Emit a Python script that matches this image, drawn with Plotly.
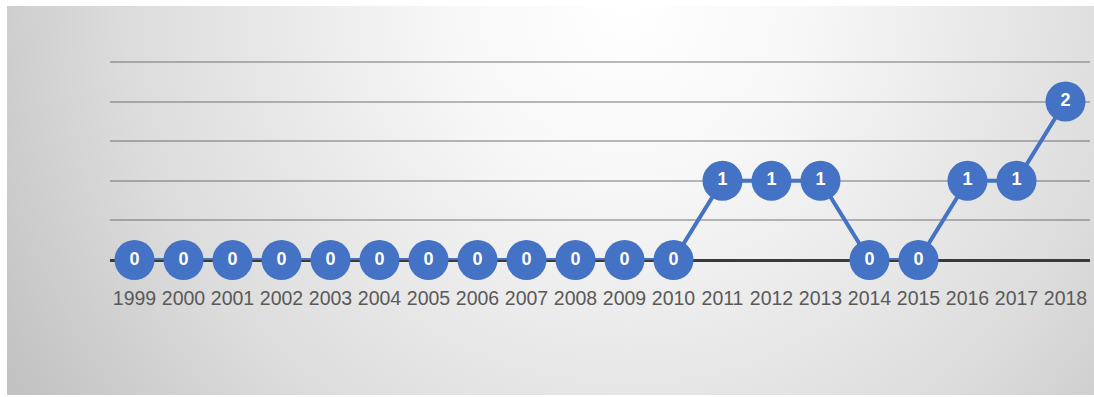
import base64
import plotly.graph_objects as go

years = [str(y) for y in range(1999, 2019)]
counts = [0, 0, 0, 0, 0, 0, 0, 0, 0, 0, 0, 0, 1, 1, 1, 0, 0, 1, 1, 2]
y_ticks = [0, 0.5, 1, 1.5, 2, 2.5]

W, H = 1094, 397
L, R, T, B = 110, 4, 54, 137
pw, ph = W - L - R, H - T - B

svg = (
    '<svg xmlns="http://www.w3.org/2000/svg" width="1087" height="389" viewBox="0 0 1087 389" preserveAspectRatio="none">'
    '<defs><radialGradient id="g" gradientUnits="userSpaceOnUse" cx="620" cy="0" r="720" fx="620" fy="0">'
    '<stop offset="0" stop-color="#ffffff"/>'
    '<stop offset="0.25" stop-color="#f7f7f7"/>'
    '<stop offset="0.7" stop-color="#dcdcdc"/>'
    '<stop offset="1" stop-color="#c2c2c2"/>'
    '</radialGradient></defs>'
    '<rect x="0" y="0" width="1087" height="389" fill="url(#g)"/></svg>'
)
src = "data:image/svg+xml;base64," + base64.b64encode(svg.encode()).decode()

fig = go.Figure()
fig.add_trace(go.Scatter(
    x=years, y=counts,
    mode="lines+markers+text",
    line=dict(color="#4472C4", width=4),
    marker=dict(size=40, color="#4472C4", line=dict(width=0)),
    text=[str(v) for v in counts],
    textposition="middle center",
    textfont=dict(color="white", size=18, family="Liberation Sans", weight="bold"),
    cliponaxis=False,
    hoverinfo="skip",
))

fig.update_layout(
    width=W, height=H,
    margin=dict(l=L, r=R, t=T, b=B),
    paper_bgcolor="white",
    plot_bgcolor="rgba(0,0,0,0)",
    showlegend=False,
    images=[dict(
        source=src, xref="paper", yref="paper",
        x=(7 - L) / pw, y=(H - B - 6) / ph,
        sizex=1087 / pw, sizey=389 / ph,
        xanchor="left", yanchor="top",
        sizing="stretch", layer="below",
    )],
    xaxis=dict(
        type="category", range=[-0.5, 19.5],
        showgrid=False, showline=False, zeroline=False,
        tickfont=dict(family="Liberation Sans", size=19.5, color="#595959"),
        ticks="", ticklabelstandoff=24,
    ),
    yaxis=dict(
        range=[0, 2.6], tickvals=y_ticks, showticklabels=False,
        showgrid=True, gridcolor="rgba(90,90,90,0.42)", gridwidth=2,
        zeroline=True, zerolinecolor="#3a3a3a", zerolinewidth=3,
        showline=False,
    ),
)

fig.write_html("out.html")
